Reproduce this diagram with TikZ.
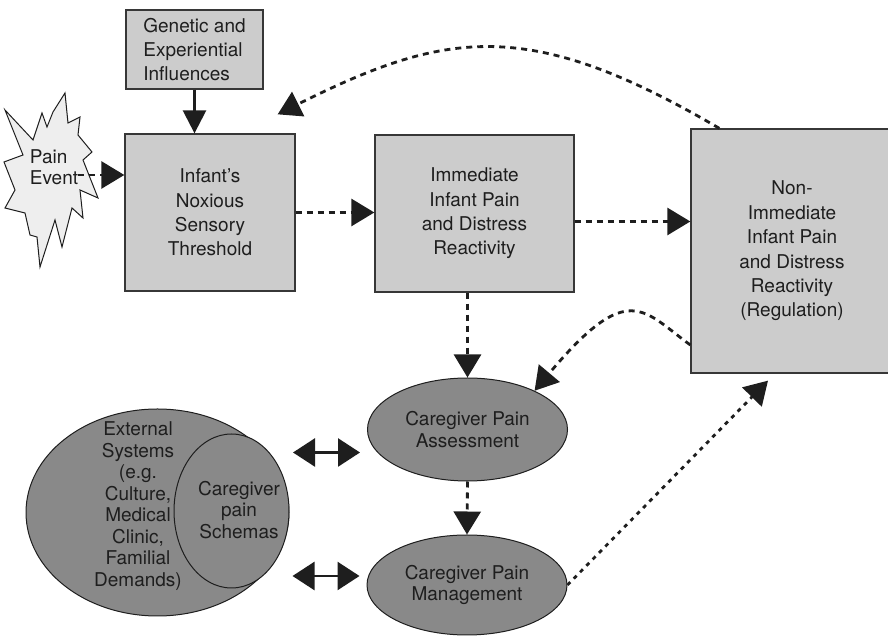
\documentclass[tikz,border=0pt]{standalone}
\usepackage{fontspec}
\setmainfont{TeX Gyre Heros}
\usetikzlibrary{arrows.meta,shapes.geometric}
\definecolor{boxgray}{RGB}{204,204,204}
\definecolor{ovalgray}{RGB}{137,137,137}
\definecolor{burstfill}{RGB}{238,238,238}
\definecolor{inkdark}{RGB}{30,30,30}
\definecolor{edgedark}{RGB}{55,55,55}

\begin{document}
\begin{tikzpicture}[x=1pt, y=1pt,
    font=\fontsize{19}{24.4}\selectfont,
    box/.style={rectangle, fill=boxgray, draw=edgedark, line width=1.3pt, inner sep=0pt, align=center, text=inkdark},
    oval/.style={ellipse, fill=ovalgray, draw=inkdark, line width=1pt, inner sep=0pt, align=center, text=inkdark, font=\fontsize{19}{21.8}\selectfont},
    ovaltext/.style={align=center, text=inkdark, inner sep=0pt, font=\fontsize{19}{21.5}\selectfont},
    burst/.style={fill=burstfill, draw=inkdark, line width=1pt},
    dasharrow/.style={draw=inkdark, line width=2.8pt, dash pattern=on 6pt off 5pt, -{Triangle[length=23pt, width=27pt]}},
    dotarrow/.style={draw=inkdark, line width=2.8pt, dash pattern=on 4pt off 5pt, -{Triangle[length=23pt, width=27pt]}},
    solidarrow/.style={draw=inkdark, line width=2.6pt, -{Triangle[length=23pt, width=23pt]}},
    twoway/.style={draw=inkdark, line width=2.6pt, {Triangle[length=22pt, width=28pt]}-{Triangle[length=22pt, width=28pt]}}
]

\useasboundingbox (0,0) rectangle (888,636);

% 1. PAIN EVENT BURST
\draw[burst] (5,526) -- (33,496) -- (42,523) -- (47,509) -- (53,524) -- (65,543) -- (68,513) -- (80,519)
    -- (78,501) -- (92,484) -- (83,476) -- (98,438) -- (80,446) -- (83,418) -- (72,428) -- (62,389)
    -- (55,416) -- (40,369) -- (37,399) -- (30,401) -- (25,423) -- (5,428) -- (15,446) -- (4,474)
    -- (23,481) -- cycle;
\node[ovaltext, align=left] (pain) at (54,469) {Pain\\Event};

% 2. BOXES
\node[box, minimum width=137pt, minimum height=79pt, align=left] (genetic) at (194.5,586.5) {Genetic and\\Experiential\\Influences};
\node[box, minimum width=170pt, minimum height=157pt] (threshold) at (210,423.5) {Infant’s\\Noxious\\Sensory\\Threshold};
\node[box, minimum width=199pt, minimum height=157pt] (immediate) at (474.5,422.5) {Immediate\\Infant Pain\\and Distress\\Reactivity};
\node[box, minimum width=202pt, minimum height=244pt] (nonimm) at (792,385) {Non-\\Immediate\\Infant Pain\\and Distress\\Reactivity\\(Regulation)};

% 3. CAREGIVER OVALS
\node[oval, minimum width=200pt, minimum height=103pt] (assess) at (467.5,206.5) {Caregiver Pain\\Assessment};
\node[oval, minimum width=200pt, minimum height=100pt] (manage) at (467,51) {Caregiver Pain\\Management};

% External systems with schemas inside
\node[oval, minimum width=263pt, minimum height=207pt] (ext) at (157.5,123.5) {};
\node[oval, minimum width=115pt, minimum height=154pt] (schemas) at (231.5,125) {};
\node[ovaltext] (exttext) at (138,130) {External\\Systems\\(e.g.\\Culture,\\Medical\\Clinic,\\Familial\\Demands)};
\node[ovaltext] (schemastext) at (239,126) {Caregiver\\pain\\Schemas};

% 4. ARROWS
\draw[dasharrow] ([yshift=-8pt]pain.east) -- ([yshift=-8pt]pain.east -| threshold.west);
\draw[solidarrow] (genetic.south) -- (genetic.south |- threshold.north);
\draw[dasharrow] (threshold.east) -- (threshold.east -| immediate.west);
\draw[dasharrow] ([yshift=-8pt]immediate.east) -- ([yshift=-8pt]immediate.east -| nonimm.west);
\draw[dasharrow] (assess.north |- immediate.south) -- (assess.north);
\draw[dasharrow] (assess.south) -- (manage.north);

% feedback loops
\coordinate (loopend) at ([xshift=-18pt,yshift=19pt]threshold.north east);
\draw[dasharrow] ([xshift=29pt]nonimm.north west) .. controls +(-191,112) and +(168,84) .. (loopend);
\draw[dasharrow] ([yshift=-94pt]nonimm.west) .. controls +(-47.5,34.5) and +(94,112) .. (assess.30);
\draw[dotarrow] (manage.east) -- ([xshift=-24pt,yshift=-7pt]nonimm.south);

% two-way links to external systems
\draw[twoway] ([shift={(-74pt,-23pt)}]assess.west) -- ([shift={(-7pt,-23pt)}]assess.west);
\draw[twoway] ([shift={(-74pt,9pt)}]manage.west) -- ([shift={(-7pt,9pt)}]manage.west);

\end{tikzpicture}
\end{document}
